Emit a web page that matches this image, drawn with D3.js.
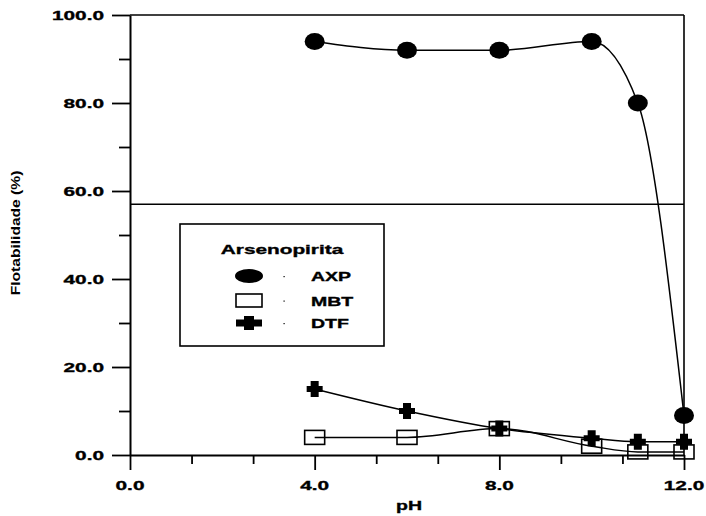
<!DOCTYPE html>
<html>
<head>
<meta charset="utf-8">
<script src="https://cdn.jsdelivr.net/npm/d3@7"></script>
<style>
  body { margin: 0; background: #fff; }
  text { font-family: "Liberation Sans", Arial, sans-serif; font-weight: bold; fill: #000; }
  .heavy text { stroke: #000; stroke-width: 0.35; }
</style>
</head>
<body>
<svg id="chart" width="706" height="516"></svg>
<script>
// Flotation recovery of arsenopyrite vs pH for three collectors
const pH = [4, 6, 8, 10, 11, 12];
const axp = [94, 92, 92, 94, 80, 9];
const mbt = [4, 4, 6, 2, 0.7, 0.7];
const dtf = [15, 10, 6, 3.8, 3, 3];

const xMajor = [0, 4, 8, 12];
const xMinor = [4 / 3, 8 / 3, 16 / 3, 20 / 3, 28 / 3, 32 / 3];
const yMajor = [0, 20, 40, 60, 80, 100];
const yMinor = [10, 30, 50, 70, 90];
const refLevel = 57;

const legendTitle = "Arsenopirita";
const seriesNames = ["AXP", "MBT", "DTF"];
const xTitle = "pH";
const yTitle = "Flotabilidade (%)";

const svg = d3.select("#chart");
const L = 130, R = 684, T = 15, B = 455;
const x = d3.scaleLinear().domain([0, 12]).range([L, R]);
const y = d3.scaleLinear().domain([0, 100]).range([B, T]);
const fmt = d3.format(".1f");
const WIDE = 1.6;

// horizontally widened bold text
function wideText(parent, tx, ty, str, anchor, size, k, rot, heavy = true) {
  const g = parent.append("g")
    .attr("class", heavy ? "heavy" : null)
    .attr("transform", `translate(${tx},${ty})${rot ? ` rotate(${rot})` : ""} scale(${k},1)`);
  g.append("text").attr("text-anchor", anchor).attr("font-size", size).text(str);
  return g;
}

// frame: top and right edges plus reference level
svg.append("line").attr("x1", L).attr("x2", R).attr("y1", T).attr("y2", T)
  .attr("stroke", "#000").attr("stroke-width", 1.6);
svg.append("line").attr("x1", R).attr("x2", R).attr("y1", T).attr("y2", B)
  .attr("stroke", "#000").attr("stroke-width", 1.6);
svg.append("line").attr("x1", L).attr("x2", R).attr("y1", y(refLevel)).attr("y2", y(refLevel))
  .attr("stroke", "#000").attr("stroke-width", 1.4);

// axes
const yAxis = svg.append("g").attr("transform", `translate(${L},0)`);
yAxis.call(d3.axisLeft(y).tickValues(yMajor).tickSize(18).tickSizeOuter(0).tickFormat(""));
const yAxisMinor = svg.append("g").attr("transform", `translate(${L},0)`);
yAxisMinor.call(d3.axisLeft(y).tickValues(yMinor).tickSize(11).tickSizeOuter(0).tickFormat(""));
yAxisMinor.select(".domain").remove();

const xAxis = svg.append("g").attr("transform", `translate(0,${B})`);
xAxis.call(d3.axisBottom(x).tickValues(xMajor).tickSize(15).tickSizeOuter(0).tickFormat(""));
const xAxisMinor = svg.append("g").attr("transform", `translate(0,${B})`);
xAxisMinor.call(d3.axisBottom(x).tickValues(xMinor).tickSize(9).tickSizeOuter(0).tickFormat(""));
xAxisMinor.select(".domain").remove();

svg.selectAll(".domain").attr("stroke-width", 2);
svg.selectAll(".tick line").attr("stroke-width", 1.8);

// tick labels
yMajor.forEach(v => wideText(svg, 104, y(v) + 4.7, fmt(v), "end", 13, WIDE));
xMajor.forEach(v => wideText(svg, x(v), 490, fmt(v), "middle", 13, WIDE));

// axis titles
wideText(svg, 409, 510, xTitle, "middle", 13, 1.5);
wideText(svg, 20, 233, yTitle, "middle", 12, 1.3, -90, false);

// markers
function plusPath(cx, cy, w, h, tw, th) {
  return `M${cx - w / 2},${cy - tw / 2}H${cx - th / 2}V${cy - h / 2}H${cx + th / 2}V${cy - tw / 2}` +
    `H${cx + w / 2}V${cy + tw / 2}H${cx + th / 2}V${cy + h / 2}H${cx - th / 2}V${cy + tw / 2}H${cx - w / 2}Z`;
}

// curves
const line = d3.line().x(d => x(d[0])).y(d => y(d[1])).curve(d3.curveMonotoneX);
[axp, mbt, dtf].forEach(vals => {
  svg.append("path")
    .attr("d", line(pH.map((p, i) => [p, vals[i]])))
    .attr("fill", "none").attr("stroke", "#000").attr("stroke-width", 1.5);
});

svg.append("g").selectAll("rect").data(pH).join("rect")
  .attr("x", (p) => x(p) - 10).attr("y", (p, i) => y(mbt[i]) - 7)
  .attr("width", 20).attr("height", 14)
  .attr("fill", "none").attr("stroke", "#000").attr("stroke-width", 1.6);

svg.append("g").selectAll("path").data(pH).join("path")
  .attr("d", (p, i) => plusPath(x(p), y(dtf[i]), 16, 16, 6, 8))
  .attr("fill", "#000");

svg.append("g").selectAll("ellipse").data(pH).join("ellipse")
  .attr("cx", p => x(p)).attr("cy", (p, i) => y(axp[i]))
  .attr("rx", 10).attr("ry", 8.5).attr("fill", "#000");

// legend
const lg = svg.append("g");
lg.append("rect").attr("x", 180).attr("y", 224).attr("width", 204).attr("height", 122)
  .attr("fill", "#fff").attr("stroke", "#000").attr("stroke-width", 1.6);
wideText(lg, 282, 254, legendTitle, "middle", 13, WIDE);
const rows = [276, 300.5, 323];
const symX = 249;
lg.append("ellipse").attr("cx", symX).attr("cy", rows[0]).attr("rx", 14).attr("ry", 7).attr("fill", "#000");
lg.append("rect").attr("x", symX - 13).attr("y", rows[1] - 6.5).attr("width", 26).attr("height", 13)
  .attr("fill", "none").attr("stroke", "#000").attr("stroke-width", 1.6);
lg.append("path").attr("d", plusPath(symX, rows[2], 26, 14, 7, 10)).attr("fill", "#000");
seriesNames.forEach((name, i) => {
  lg.append("rect").attr("x", 283.5).attr("y", rows[i]).attr("width", 1.2).attr("height", 1.2).attr("fill", "#000");
  wideText(lg, 311, rows[i] + 5, name, "start", 13, 1.5);
});
</script>
</body>
</html>
